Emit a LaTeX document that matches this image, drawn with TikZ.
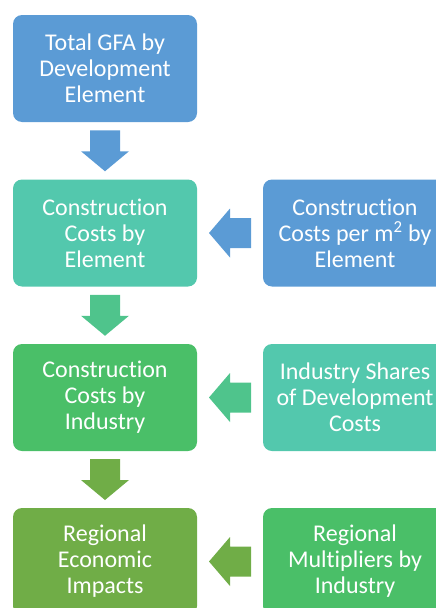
\documentclass[tikz,border=0pt]{standalone}
\usepackage{fontspec}
\setmainfont{Carlito}[Ligatures={NoCommon,NoRare}]
\usetikzlibrary{calc}
\definecolor{cblue}{HTML}{5B9BD5}
\definecolor{cteal}{HTML}{53C8AD}
\definecolor{ctealgreen}{HTML}{4FC48C}
\definecolor{cgreen}{HTML}{4ABF68}
\definecolor{colive}{HTML}{70AD47}
\tikzset{
  box/.style={rounded corners=9pt, minimum width=184pt, minimum height=107pt,
    inner sep=0pt, align=center, text=white,
    font=\fontsize{24}{26}\selectfont},
  downarrow/.pic={\fill (-15,-20.5) -- (15,-20.5) -- (15,0.5) -- (24,0.5)
    -- (0,20.5) -- (-24,0.5) -- (-15,0.5) -- cycle;},
  leftarrow/.pic={\fill (21,-15) -- (21,15) -- (0,15) -- (0,24.5)
    -- (-21,0) -- (0,-24.5) -- (0,-15) -- cycle;}
}
\begin{document}
\begin{tikzpicture}[x=1pt, y=-1pt]
\useasboundingbox (0,0) rectangle (436,608);
\clip (0,0) rectangle (436,608);
% left column
\node[box, fill=cblue]  (gfa)  at (105,68.5)  {Total GFA by\\Development\\Element};
\node[box, fill=cteal]  (cce)  at (105,233)   {Construction\\Costs by\\Element};
\node[box, fill=cgreen] (cci)  at (105,397.5) {Construction\\Costs by\\Industry};
\node[box, fill=colive] (rei)  at (105,561.5) {Regional\\Economic\\Impacts};
% right column
\node[box, fill=cblue]  (cpm)  at (355,233)   {Construction\\Costs per m\textsuperscript{2} by\\Element};
\node[box, fill=cteal]  (ish)  at (355,397.5) {Industry Shares\\of Development\\Costs};
\node[box, fill=cgreen] (rmu)  at (355,561.5) {Regional\\Multipliers by\\Industry};
% block arrows between the boxes
\pic[fill=cblue]      at ($(gfa.south)!0.5!(cce.north)$) {downarrow};
\pic[fill=ctealgreen] at ($(cce.south)!0.5!(cci.north)$) {downarrow};
\pic[fill=colive]     at ($(cci.south)!0.5!(rei.north)$) {downarrow};
\pic[fill=cblue]      at ($(cce.east)!0.5!(cpm.west)$) {leftarrow};
\pic[fill=ctealgreen] at ($(cci.east)!0.5!(ish.west)$) {leftarrow};
\pic[fill=colive]     at ($(rei.east)!0.5!(rmu.west)$) {leftarrow};
\end{tikzpicture}
\end{document}
